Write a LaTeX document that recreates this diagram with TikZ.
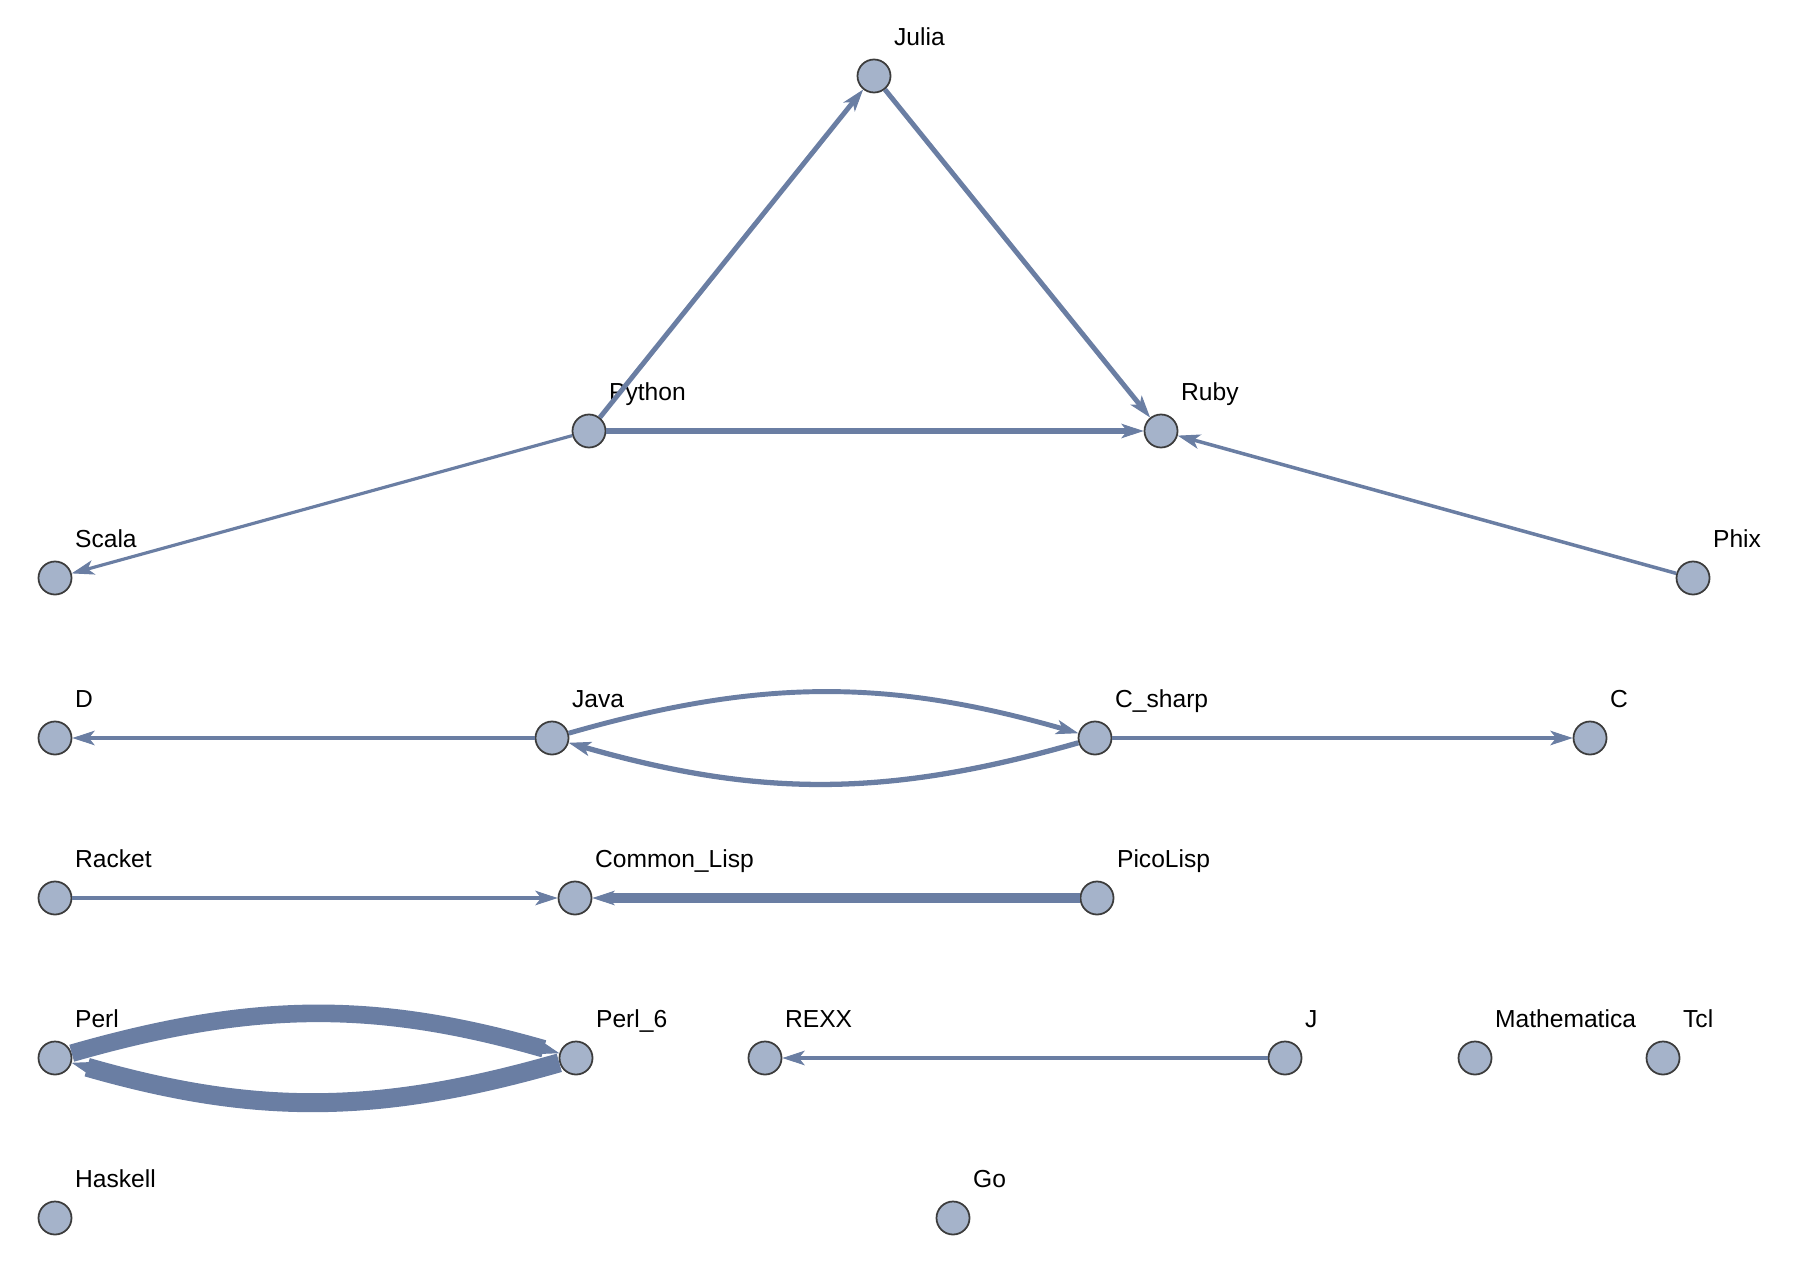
\documentclass[tikz,border=0pt]{standalone}
\usepackage{fontspec}
\setmainfont{Liberation Sans}
\usetikzlibrary{arrows.meta}
\definecolor{Edge}{HTML}{6A7EA3}
\definecolor{Vertex}{HTML}{A5B3CA}
\definecolor{Rim}{HTML}{3C3C3C}

\begin{document}
\begin{tikzpicture}[x=0.01cm, y=-0.01cm, every node/.style={font=\fontsize{7}{8}\selectfont}]
        \tikzstyle{lang}=[circle, draw=Rim, fill=Vertex, line width=0.5pt, minimum size=0.33cm, inner sep=0pt]
        \tikzstyle{tag}=[inner sep=0pt, label distance=0pt, text height=1.6ex, text depth=0.5ex, xshift=0.02cm, yshift=0.41cm]
        \tikzstyle{link}=[draw=Edge, -{Stealth[length=6.4pt, width=4.2pt, inset=1.7pt, line width=0.3pt]}]
        \useasboundingbox (0,0) rectangle (1810,1282);
        \node[lang, label={[tag]0:Julia}] (jl) at (874,76) {};
        \node[lang, label={[tag]0:Python}] (py) at (589,431) {};
        \node[lang, label={[tag]0:Ruby}] (rb) at (1161,431) {};
        \node[lang, label={[tag]0:Scala}] (sc) at (55,578) {};
        \node[lang, label={[tag]0:Phix}] (ph) at (1693,578) {};
        \node[lang, label={[tag]0:D}] (d) at (55,738) {};
        \node[lang, label={[tag]0:Java}] (jv) at (552,738) {};
        \node[lang, label={[tag]0:C\_sharp}] (cs) at (1095,738) {};
        \node[lang, label={[tag]0:C}] (c) at (1590,738) {};
        \node[lang, label={[tag]0:Racket}] (rk) at (55,898) {};
        \node[lang, label={[tag]0:Common\_Lisp}] (cl) at (575,898) {};
        \node[lang, label={[tag]0:PicoLisp}] (pl) at (1097,898) {};
        \node[lang, label={[tag]0:Perl}] (pe) at (55,1058) {};
        \node[lang, label={[tag]0:Perl\_6}] (p6) at (576,1058) {};
        \node[lang, label={[tag]0:REXX}] (rx) at (765,1058) {};
        \node[lang, label={[tag]0:J}] (j) at (1285,1058) {};
        \node[lang, label={[tag]0:Mathematica}] (ma) at (1475,1058) {};
        \node[lang, label={[tag]0:Tcl}] (tc) at (1663,1058) {};
        \node[lang, label={[tag]0:Haskell}] (hs) at (55,1218) {};
        \node[lang, label={[tag]0:Go}] (go) at (953,1218) {};
        \draw[link, line width=1.4pt] (py) -- (jl);
        \draw[link, line width=1.4pt] (jl) -- (rb);
        \draw[link, line width=1.9pt] (py) -- (rb);
        \draw[link, line width=0.9pt] (py) -- (sc);
        \draw[link, line width=1pt] (ph) -- (rb);
        \draw[link, line width=0.9pt] (jv) -- (d);
        \draw[link, line width=1.4pt] (jv) to[bend left=16] (cs);
        \draw[link, line width=1.5pt] (cs) to[bend left=16] (jv);
        \draw[link, line width=0.9pt] (cs) -- (c);
        \draw[link, line width=0.9pt] (rk) -- (cl);
        \draw[link, line width=2.6pt] (pl) -- (cl);
        \draw[link, line width=5pt] (pe) to[bend left=16] (p6);
        \draw[link, line width=5.4pt] (p6) to[bend left=16] (pe);
        \draw[link, line width=0.9pt] (j) -- (rx);
      \end{tikzpicture}
\end{document}
